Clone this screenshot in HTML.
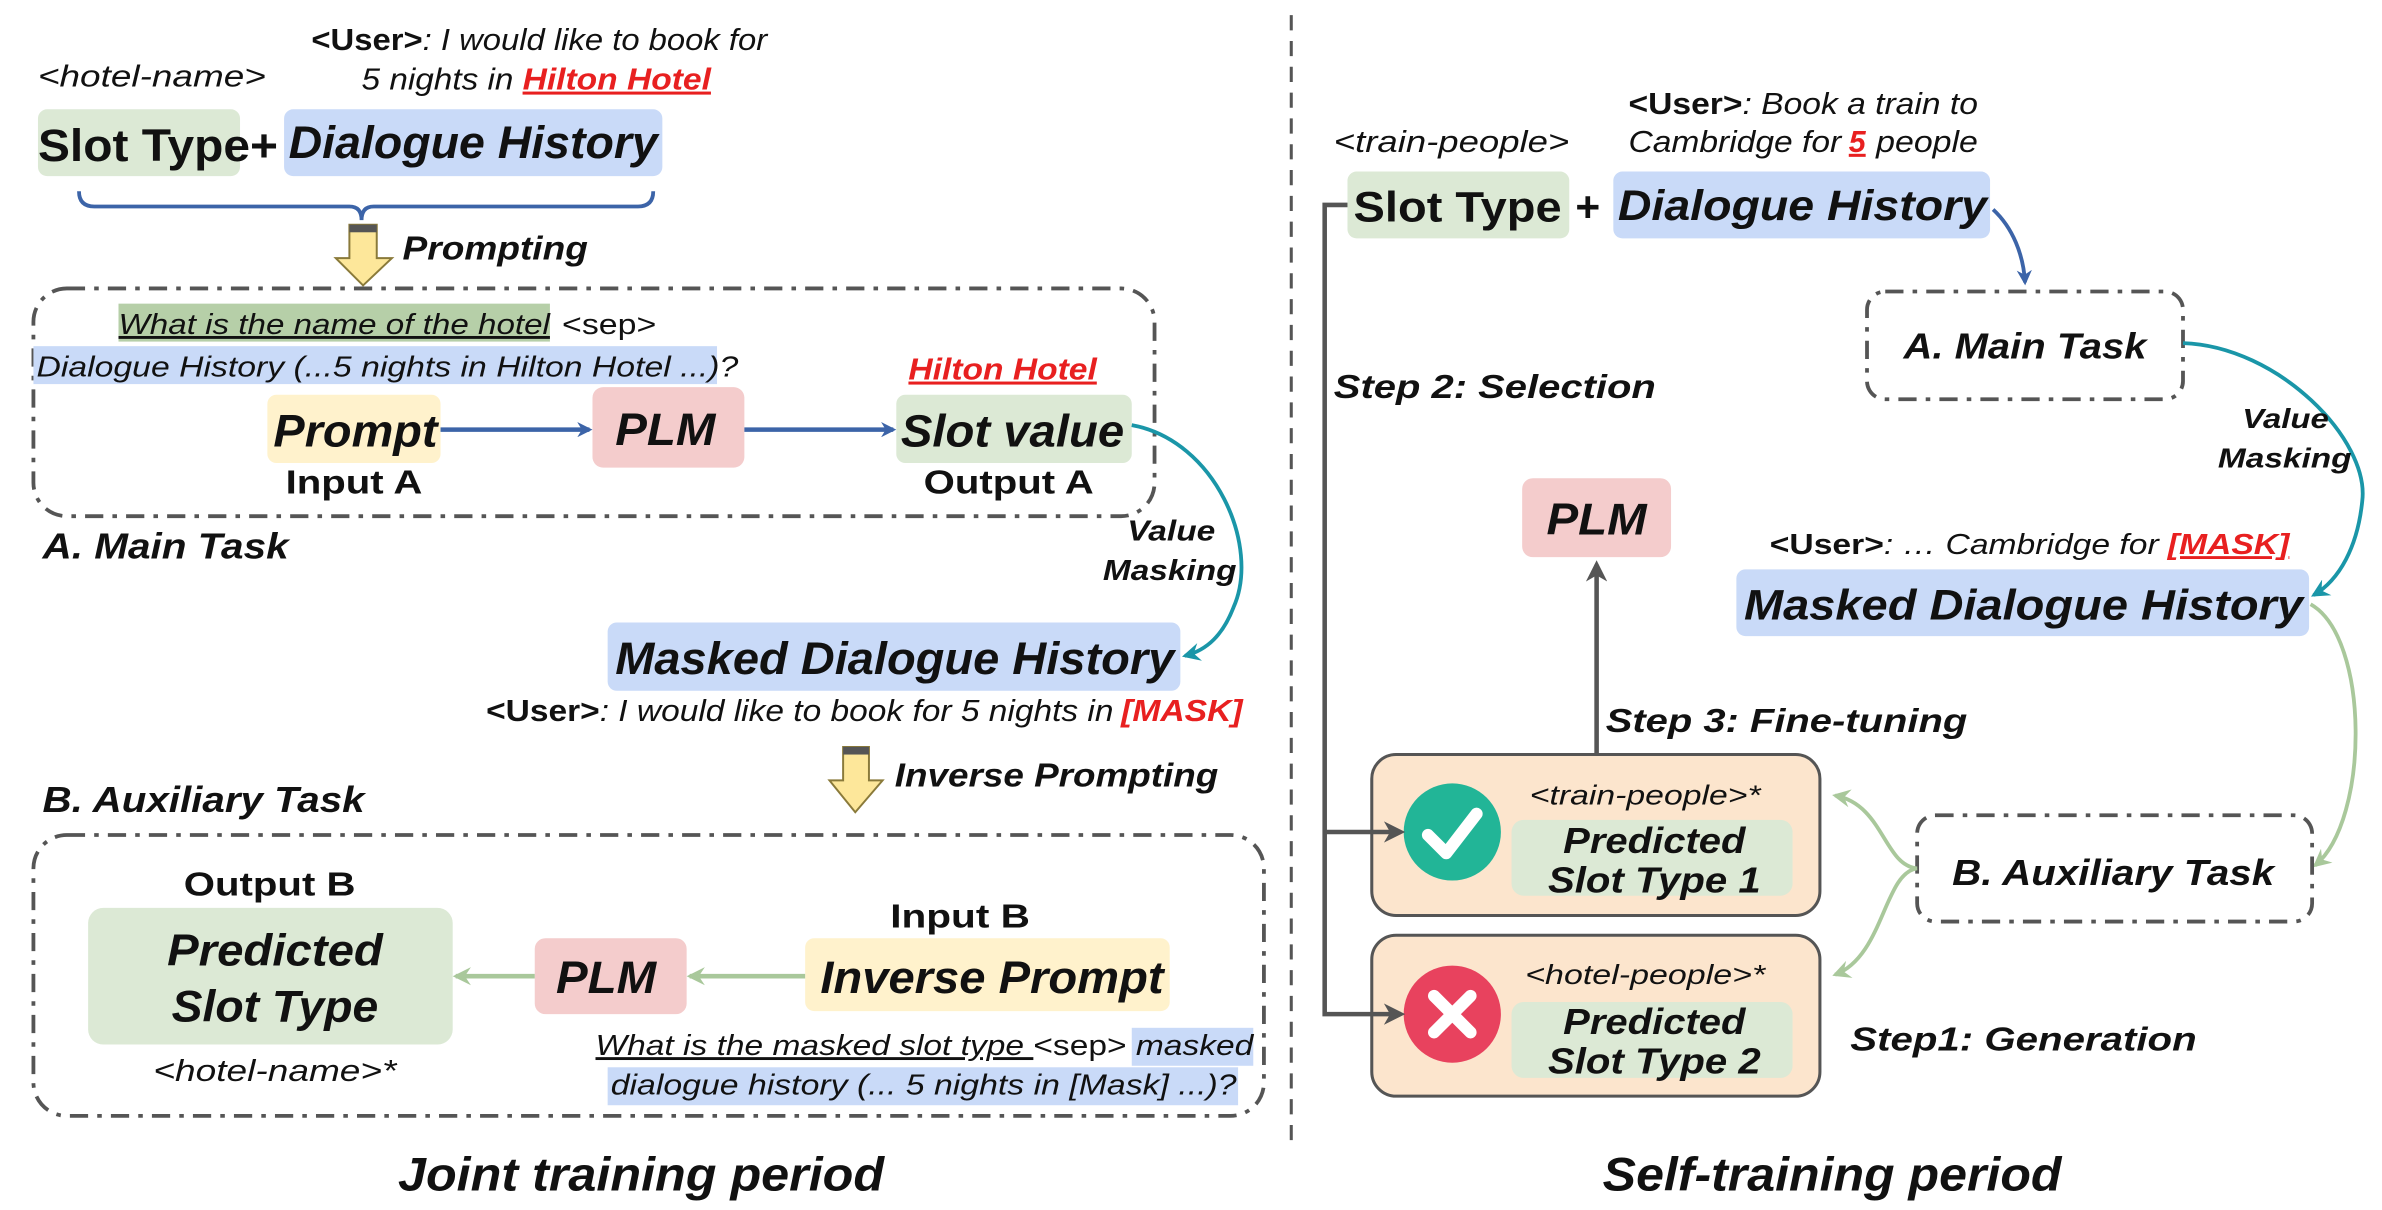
<!DOCTYPE html>
<html><head><meta charset="utf-8"><style>
html,body{margin:0;padding:0;background:#fff;}
svg{display:block;}
text{font-family:"Liberation Sans",Arial,sans-serif;fill:#111;}
.bi{font-weight:bold;font-style:italic;}
.i{font-style:italic;}
.b{font-weight:bold;}
</style></head><body>
<svg width="2382" height="1210" viewBox="0 0 1568 797" preserveAspectRatio="none" xmlns="http://www.w3.org/2000/svg">
<defs>
<marker id="ab" markerWidth="10" markerHeight="10" refX="8" refY="5" orient="auto" markerUnits="userSpaceOnUse"><path d="M0,0 L10,5 L0,10 L3,5 Z" fill="#3c64a8"/></marker>
<marker id="ag" markerWidth="12" markerHeight="12" refX="10" refY="6" orient="auto" markerUnits="userSpaceOnUse"><path d="M0,0 L12,6 L0,12 L4,6 Z" fill="#a9c89b"/></marker>
<marker id="at" markerWidth="12" markerHeight="12" refX="10" refY="6" orient="auto" markerUnits="userSpaceOnUse"><path d="M0,0 L12,6 L0,12 L4,6 Z" fill="#1a96a8"/></marker>
<marker id="ay" markerWidth="14" markerHeight="14" refX="11" refY="7" orient="auto" markerUnits="userSpaceOnUse"><path d="M0,0 L14,7 L0,14 L4,7 Z" fill="#555"/></marker>
</defs>
<line x1="850" y1="10" x2="850" y2="757" stroke="#555" stroke-width="2" stroke-dasharray="10,7"/>

<text x="25" y="57" font-size="20" class="i" textLength="150" lengthAdjust="spacingAndGlyphs">&lt;hotel-name&gt;</text>
<text x="205" y="33" font-size="20" class="i" textLength="300" lengthAdjust="spacingAndGlyphs"><tspan class="b" font-style="normal">&lt;User&gt;</tspan>: I would like to book for</text>
<text x="238" y="59" font-size="20" class="i" textLength="100" lengthAdjust="spacingAndGlyphs">5 nights in</text>
<text x="344" y="59" font-size="20" class="bi" style="fill:#e82020" text-decoration="underline" textLength="124" lengthAdjust="spacingAndGlyphs">Hilton Hotel</text>
<rect x="25" y="72" width="133" height="44" rx="6" fill="#dce9d5"/>
<rect x="187" y="72" width="249" height="44" rx="6" fill="#c9daf8"/>
<text x="25" y="106" font-size="30" class="b" textLength="158" lengthAdjust="spacingAndGlyphs">Slot Type+</text>
<text x="190" y="104" font-size="30" class="bi" textLength="243" lengthAdjust="spacingAndGlyphs">Dialogue History</text>
<path d="M52,126 Q52,136 62,136 L230,136 Q238,136 238,145 Q238,136 246,136 L420,136 Q430,136 430,126" fill="none" stroke="#3c64a8" stroke-width="2.5"/>
<path d="M230,148 L248,148 L248,170 L258,170 L239,188 L221,170 L230,170 Z" fill="#fde79a" stroke="#8a7a3a" stroke-width="1.3"/>
<rect x="230" y="148" width="18" height="5" fill="#555"/>
<text x="265" y="171" font-size="22" class="bi" textLength="122" lengthAdjust="spacingAndGlyphs">Prompting</text>

<rect x="22" y="190" width="738" height="150" rx="22" fill="none" stroke="#555" stroke-width="2.5" stroke-dasharray="12,6,3,6"/>
<rect x="78" y="200" width="284" height="25" fill="#b6cfa8"/>
<text x="78" y="220" font-size="19" class="i" text-decoration="underline" textLength="284" lengthAdjust="spacingAndGlyphs">What is the name of the hotel</text>
<text x="370" y="220" font-size="19" textLength="62" lengthAdjust="spacingAndGlyphs">&lt;sep&gt;</text>
<rect x="22" y="228" width="450" height="25" fill="#c9daf8"/>
<text x="24" y="248" font-size="19" class="i" textLength="462" lengthAdjust="spacingAndGlyphs">Dialogue History (...5 nights in Hilton Hotel ...)?</text>
<text x="598" y="250" font-size="20" class="bi" style="fill:#e82020" text-decoration="underline" textLength="124" lengthAdjust="spacingAndGlyphs">Hilton Hotel</text>
<rect x="176" y="260" width="114" height="45" rx="6" fill="#fff2cc"/>
<text x="180" y="294" font-size="30" class="bi" textLength="108" lengthAdjust="spacingAndGlyphs">Prompt</text>
<text x="188" y="325" font-size="22" class="b" textLength="90" lengthAdjust="spacingAndGlyphs">Input A</text>
<rect x="390" y="255" width="100" height="53" rx="7" fill="#f4cccc"/>
<text x="405" y="293" font-size="30" class="bi" textLength="66" lengthAdjust="spacingAndGlyphs">PLM</text>
<rect x="590" y="260" width="155" height="45" rx="6" fill="#dce9d5"/>
<text x="593" y="294" font-size="30" class="bi" textLength="147" lengthAdjust="spacingAndGlyphs">Slot value</text>
<text x="608" y="325" font-size="22" class="b" textLength="112" lengthAdjust="spacingAndGlyphs">Output A</text>
<line x1="290" y1="283" x2="388" y2="283" stroke="#3c64a8" stroke-width="3" marker-end="url(#ab)"/>
<line x1="490" y1="283" x2="588" y2="283" stroke="#3c64a8" stroke-width="3" marker-end="url(#ab)"/>
<text x="28" y="368" font-size="24" class="bi" textLength="162" lengthAdjust="spacingAndGlyphs">A. Main Task</text>
<path d="M745,280 C800,290 830,360 812,400 C805,418 795,428 780,432" fill="none" stroke="#1a96a8" stroke-width="2.5" marker-end="url(#at)"/>
<text x="742" y="356" font-size="19" class="bi" textLength="58" lengthAdjust="spacingAndGlyphs">Value</text>
<text x="726" y="382" font-size="19" class="bi" textLength="88" lengthAdjust="spacingAndGlyphs">Masking</text>
<rect x="400" y="410" width="377" height="45" rx="6" fill="#c9daf8"/>
<text x="405" y="444" font-size="30" class="bi" textLength="368" lengthAdjust="spacingAndGlyphs">Masked Dialogue History</text>
<text x="320" y="475" font-size="20" class="i" textLength="413" lengthAdjust="spacingAndGlyphs"><tspan class="b" font-style="normal">&lt;User&gt;</tspan>: I would like to book for 5 nights in</text>
<text x="738" y="475" font-size="20" class="bi" style="fill:#e82020" textLength="80" lengthAdjust="spacingAndGlyphs">[MASK]</text>
<path d="M555,492 L572,492 L572,514 L581,514 L563,535 L546,514 L555,514 Z" fill="#fde79a" stroke="#8a7a3a" stroke-width="1.3"/>
<rect x="555" y="492" width="17" height="5" fill="#555"/>
<text x="589" y="518" font-size="22" class="bi" textLength="213" lengthAdjust="spacingAndGlyphs">Inverse Prompting</text>
<text x="28" y="535" font-size="24" class="bi" textLength="212" lengthAdjust="spacingAndGlyphs">B. Auxiliary Task</text>

<rect x="22" y="550" width="810" height="185" rx="22" fill="none" stroke="#555" stroke-width="2.5" stroke-dasharray="12,6,3,6"/>
<text x="121" y="590" font-size="22" class="b" textLength="113" lengthAdjust="spacingAndGlyphs">Output B</text>
<rect x="58" y="598" width="240" height="90" rx="10" fill="#dce9d5"/>
<text x="110" y="636" font-size="29" class="bi" textLength="142" lengthAdjust="spacingAndGlyphs">Predicted</text>
<text x="113" y="673" font-size="29" class="bi" textLength="136" lengthAdjust="spacingAndGlyphs">Slot Type</text>
<text x="101" y="712" font-size="20" class="i" textLength="160" lengthAdjust="spacingAndGlyphs">&lt;hotel-name&gt;*</text>
<rect x="352" y="618" width="100" height="50" rx="7" fill="#f4cccc"/>
<text x="366" y="654" font-size="30" class="bi" textLength="66" lengthAdjust="spacingAndGlyphs">PLM</text>
<text x="586" y="611" font-size="22" class="b" textLength="92" lengthAdjust="spacingAndGlyphs">Input B</text>
<rect x="530" y="618" width="240" height="48" rx="6" fill="#fff2cc"/>
<text x="540" y="654" font-size="30" class="bi" textLength="226" lengthAdjust="spacingAndGlyphs">Inverse Prompt</text>
<line x1="530" y1="643" x2="454" y2="643" stroke="#a9c89b" stroke-width="3" marker-end="url(#ag)"/>
<line x1="352" y1="643" x2="300" y2="643" stroke="#a9c89b" stroke-width="3" marker-end="url(#ag)"/>
<rect x="745" y="677" width="80" height="25" fill="#c9daf8"/>
<rect x="400" y="703" width="415" height="25" fill="#c9daf8"/>
<text x="392" y="695" font-size="19" class="i" textLength="433" lengthAdjust="spacingAndGlyphs"><tspan text-decoration="underline">What is the masked slot type </tspan><tspan font-style="normal">&lt;sep&gt;</tspan> masked</text>
<text x="402" y="721" font-size="19" class="i" textLength="412" lengthAdjust="spacingAndGlyphs">dialogue history (... 5 nights in [Mask] ...)?</text>
<text x="262" y="784" font-size="31" class="bi" textLength="320" lengthAdjust="spacingAndGlyphs">Joint training period</text>

<!-- RIGHT -->
<text x="878" y="100" font-size="20" class="i" textLength="155" lengthAdjust="spacingAndGlyphs">&lt;train-people&gt;</text>
<text x="1072" y="75" font-size="20" class="i" textLength="230" lengthAdjust="spacingAndGlyphs"><tspan class="b" font-style="normal">&lt;User&gt;</tspan>: Book a train to</text>
<text x="1072" y="100" font-size="20" class="i" textLength="140" lengthAdjust="spacingAndGlyphs">Cambridge for</text>
<text x="1217" y="100" font-size="20" class="bi" style="fill:#e82020" text-decoration="underline">5</text>
<text x="1235" y="100" font-size="20" class="i" textLength="67" lengthAdjust="spacingAndGlyphs">people</text>
<rect x="887" y="113" width="146" height="44" rx="6" fill="#dce9d5"/>
<text x="891" y="146" font-size="28" class="b" textLength="137" lengthAdjust="spacingAndGlyphs">Slot Type</text>
<text x="1037" y="146" font-size="28" class="b">+</text>
<rect x="1062" y="113" width="248" height="44" rx="6" fill="#c9daf8"/>
<text x="1065" y="145" font-size="28" class="bi" textLength="243" lengthAdjust="spacingAndGlyphs">Dialogue History</text>
<path d="M1312,138 C1325,150 1332,168 1333,186" fill="none" stroke="#3c64a8" stroke-width="2.5" marker-end="url(#ab)"/>
<rect x="1229" y="192" width="208" height="71" rx="12" fill="none" stroke="#555" stroke-width="2.5" stroke-dasharray="12,6,3,6"/>
<text x="1253" y="236" font-size="24" class="bi" textLength="160" lengthAdjust="spacingAndGlyphs">A. Main Task</text>
<path d="M1437,226 C1500,228 1560,290 1555,330 C1552,360 1540,382 1523,392" fill="none" stroke="#1a96a8" stroke-width="2.5" marker-end="url(#at)"/>
<text x="1476" y="282" font-size="18" class="bi" textLength="57" lengthAdjust="spacingAndGlyphs">Value</text>
<text x="1460" y="308" font-size="18" class="bi" textLength="88" lengthAdjust="spacingAndGlyphs">Masking</text>
<text x="1165" y="365" font-size="19" class="i" textLength="256" lengthAdjust="spacingAndGlyphs"><tspan class="b" font-style="normal">&lt;User&gt;</tspan>: … Cambridge for</text>
<text x="1427" y="365" font-size="19" class="bi" style="fill:#e82020" text-decoration="underline" textLength="80" lengthAdjust="spacingAndGlyphs">[MASK]</text>
<rect x="1143" y="375" width="377" height="44" rx="6" fill="#c9daf8"/>
<text x="1148" y="408" font-size="28" class="bi" textLength="368" lengthAdjust="spacingAndGlyphs">Masked Dialogue History</text>
<path d="M1521,398 C1560,420 1560,540 1524,570" fill="none" stroke="#a9c89b" stroke-width="2.5" marker-end="url(#ag)"/>

<text x="878" y="262" font-size="22" class="bi" textLength="212" lengthAdjust="spacingAndGlyphs">Step 2: Selection</text>
<rect x="1002" y="315" width="98" height="52" rx="7" fill="#f4cccc"/>
<text x="1018" y="352" font-size="29" class="bi" textLength="66" lengthAdjust="spacingAndGlyphs">PLM</text>
<line x1="1051" y1="497" x2="1051" y2="372" stroke="#555" stroke-width="3" marker-end="url(#ay)"/>
<text x="1057" y="482" font-size="22" class="bi" textLength="238" lengthAdjust="spacingAndGlyphs">Step 3: Fine-tuning</text>

<rect x="903" y="497" width="295" height="106" rx="16" fill="#fce5cd" stroke="#555" stroke-width="2"/>
<circle cx="956" cy="548" r="32" fill="#22b597"/>
<path d="M940,550 L952,562 L972,536" fill="none" stroke="#fff" stroke-width="8" stroke-linecap="round" stroke-linejoin="round"/>
<text x="1007" y="530" font-size="18" class="i" textLength="152" lengthAdjust="spacingAndGlyphs">&lt;train-people&gt;*</text>
<rect x="995" y="540" width="185" height="50" rx="8" fill="#dce9d5"/>
<text x="1029" y="562" font-size="24" class="bi" textLength="120" lengthAdjust="spacingAndGlyphs">Predicted</text>
<text x="1019" y="588" font-size="24" class="bi" textLength="140" lengthAdjust="spacingAndGlyphs">Slot Type 1</text>

<rect x="903" y="616" width="295" height="106" rx="16" fill="#fce5cd" stroke="#555" stroke-width="2"/>
<circle cx="956" cy="668" r="32" fill="#e8425e"/>
<path d="M944,656 L968,680 M968,656 L944,680" fill="none" stroke="#fff" stroke-width="8" stroke-linecap="round"/>
<text x="1004" y="648" font-size="18" class="i" textLength="158" lengthAdjust="spacingAndGlyphs">&lt;hotel-people&gt;*</text>
<rect x="995" y="660" width="185" height="50" rx="8" fill="#dce9d5"/>
<text x="1029" y="681" font-size="24" class="bi" textLength="120" lengthAdjust="spacingAndGlyphs">Predicted</text>
<text x="1019" y="707" font-size="24" class="bi" textLength="140" lengthAdjust="spacingAndGlyphs">Slot Type 2</text>

<path d="M887,135 L872,135 L872,668 L922,668" fill="none" stroke="#555" stroke-width="3" marker-end="url(#ay)"/>
<path d="M872,548 L922,548" fill="none" stroke="#555" stroke-width="3" marker-end="url(#ay)"/>

<rect x="1262" y="537" width="260" height="70" rx="12" fill="none" stroke="#555" stroke-width="2.5" stroke-dasharray="12,6,3,6"/>
<text x="1285" y="583" font-size="24" class="bi" textLength="212" lengthAdjust="spacingAndGlyphs">B. Auxiliary Task</text>
<path d="M1262,572 C1240,570 1240,530 1208,524" fill="none" stroke="#a9c89b" stroke-width="2.5" marker-end="url(#ag)"/>
<path d="M1262,572 C1240,575 1240,630 1208,642" fill="none" stroke="#a9c89b" stroke-width="2.5" marker-end="url(#ag)"/>
<text x="1218" y="692" font-size="22" class="bi" textLength="228" lengthAdjust="spacingAndGlyphs">Step1: Generation</text>
<text x="1055" y="784" font-size="31" class="bi" textLength="302" lengthAdjust="spacingAndGlyphs">Self-training period</text>
</svg>
</body></html>
